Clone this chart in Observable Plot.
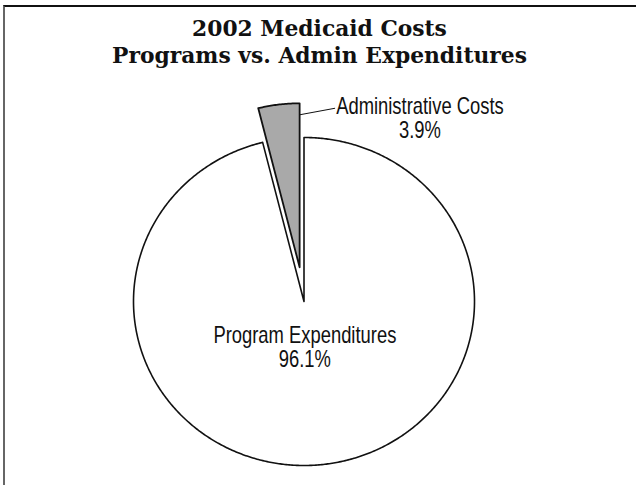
<!DOCTYPE html>
<html>
<head>
<meta charset="utf-8">
<script src="https://cdn.jsdelivr.net/npm/d3@7"></script>
<script src="https://cdn.jsdelivr.net/npm/@observablehq/plot@0.6"></script>
<style>
  html, body { margin: 0; padding: 0; background: #fff; }
  #wrap { position: relative; width: 636px; height: 485px; overflow: hidden; }
  #border { position: absolute; left: 3px; top: 5px; width: 700px; height: 478px;
            border-top: 2px solid #111; border-left: 2px solid #666; border-bottom: 2px solid #c8c8c8;
            pointer-events: none; }
</style>
</head>
<body>
<div id="wrap"><div id="border"></div></div>
<script>
// ---- data ----
const categories = ["Program Expenditures", "Administrative Costs"];
const shares = [96.1, 3.9];
const shareLabels = ["96.1%", "3.9%"];
const titleLines = ["2002 Medicaid Costs", "Programs vs. Admin Expenditures"];

// ---- layout / style ----
const W = 636, H = 485;
const explode = [0, 0.21];
const sliceFill = ["#ffffff", "#a9a9a9"];
const labelFont = "'Liberation Sans', Arial, sans-serif";
const labelCondense = 0.80;

const rows = categories.map((c, i) => ({category: c, share: shares[i], i}));
const arcs = d3.pie().sort(null).value(d => d.share)(rows);

// polygon points for each slice (angles clockwise from top; y up)
function slicePoints(a) {
  const i = a.data.i;
  const mid = (a.startAngle + a.endAngle) / 2;
  const ox = explode[i] * Math.sin(mid), oy = explode[i] * Math.cos(mid);
  const pts = [{x: ox, y: oy, category: a.data.category}];
  const n = Math.max(8, Math.ceil((a.endAngle - a.startAngle) / (Math.PI / 360)));
  for (let k = 0; k <= n; k++) {
    const t = a.startAngle + (a.endAngle - a.startAngle) * k / n;
    pts.push({x: ox + Math.sin(t), y: oy + Math.cos(t), category: a.data.category});
  }
  return pts;
}
const slices = arcs.map(slicePoints);

// label / leader positions (in the pie's unit coordinates)
const admArc = arcs[1];
const admMid = (admArc.startAngle + admArc.endAngle) / 2;
const admOx = explode[1] * Math.sin(admMid), admOy = explode[1] * Math.cos(admMid);
const leaderStart = {x: admOx + 0.93 * Math.sin(admArc.endAngle), y: admOy + 0.93 * Math.cos(admArc.endAngle)};
const leaderEnd = {x: 0.18, y: 1.178};
const admLabel = {x: 0.68, y: 1.115, text: categories[1] + "\n" + shareLabels[1]};
const progLabel = {x: 0.005, y: -0.28, text: categories[0] + "\n" + shareLabels[0]};

const chart = Plot.plot({
  width: W, height: H,
  marginLeft: 133, marginRight: W - 474, marginTop: 137, marginBottom: H - 465,
  x: {domain: [-1, 1], axis: null},
  y: {domain: [-1, 1], axis: null},
  style: {background: "transparent", overflow: "visible"},
  marks: [
    Plot.line(slices[0], {x: "x", y: "y", curve: "linear-closed", fill: sliceFill[0], stroke: "#111", strokeWidth: 1.6}),
    Plot.line(slices[1], {x: "x", y: "y", curve: "linear-closed", fill: sliceFill[1], stroke: "#111", strokeWidth: 1.8}),
    Plot.line([leaderStart, leaderEnd], {x: "x", y: "y", stroke: "#111", strokeWidth: 1}),
    Plot.text([progLabel], {x: "x", y: "y", text: "text", fontFamily: labelFont, fontSize: 23, lineHeight: 1.05, lineAnchor: "middle", fill: "#111"}),
    Plot.text([admLabel], {x: "x", y: "y", text: "text", fontFamily: labelFont, fontSize: 23, lineHeight: 1.05, lineAnchor: "middle", fill: "#111"}),
    Plot.text([titleLines.join("\n")], {frameAnchor: "top", dx: 15.5, dy: -120, text: d => d, fontFamily: "'DejaVu Serif', serif", fontWeight: "bold", fontSize: 21.8, lineHeight: 1.22, lineAnchor: "top", fill: "#111"})
  ]
});
document.getElementById("wrap").prepend(chart);

// condense the slice labels horizontally (narrow sans look)
const textGroups = chart.querySelectorAll('g[aria-label="text"]');
[textGroups[0], textGroups[1]].forEach(g => {
  g.querySelectorAll("text").forEach(t => {
    const tr = t.getAttribute("transform") || "";
    if (tr) t.setAttribute("transform", tr + ` scale(${labelCondense},1)`);
    else {
      const x = +t.getAttribute("x") || 0, y = +t.getAttribute("y") || 0;
      t.setAttribute("transform", `translate(${x},${y}) scale(${labelCondense},1)`);
      t.setAttribute("x", 0); t.setAttribute("y", 0);
      t.querySelectorAll("tspan").forEach(s => { if (s.hasAttribute("x")) s.setAttribute("x", 0); });
    }
  });
});
</script>
</body>
</html>
